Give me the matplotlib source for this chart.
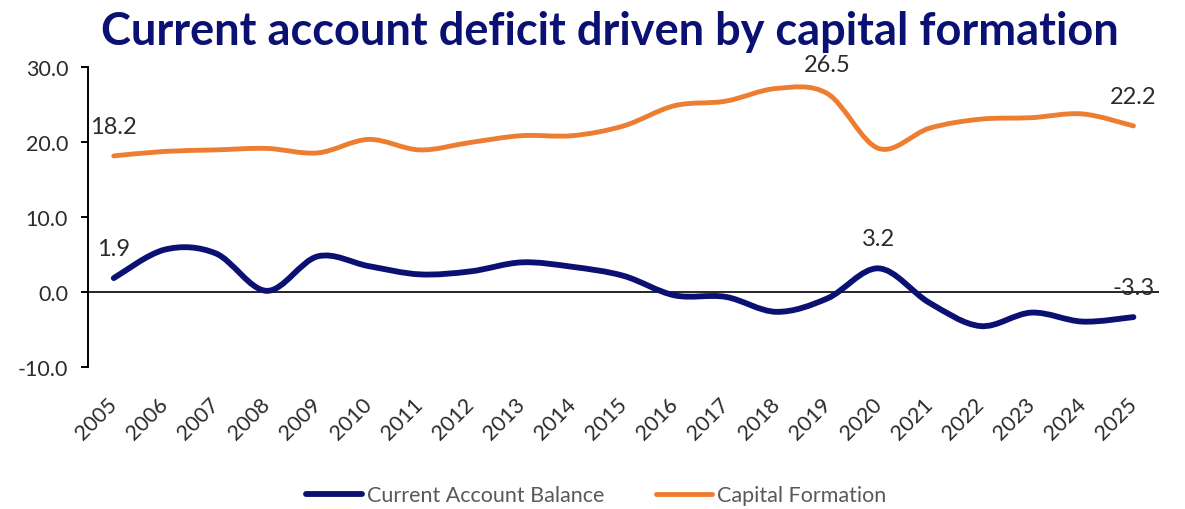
import numpy as np
import matplotlib.pyplot as plt
from matplotlib.path import Path
from matplotlib.patches import PathPatch
from matplotlib.lines import Line2D

years = [str(y) for y in range(2005, 2026)]
current_account = [1.9, 5.7, 5.2, 0.2, 4.8, 3.5, 2.4, 2.8, 4.0, 3.4, 2.2,
                   -0.4, -0.6, -2.6, -0.8, 3.2, -1.4, -4.5, -2.7, -3.9, -3.3]
capital_formation = [18.2, 18.8, 19.0, 19.2, 18.6, 20.4, 19.0, 20.0, 20.9, 20.9, 22.2,
                     24.9, 25.5, 27.2, 26.5, 19.2, 21.9, 23.1, 23.3, 23.8, 22.2]
# indices of the points that carry a value label
ca_labels = [0, 15, 20]
cf_labels = [0, 14, 20]

NAVY = '#0b1172'
ORANGE = '#ed7d31'
TXT = '#2b2b2b'
FONT = ['Lato', 'DejaVu Sans']


def smooth_path(xs, ys):
    # excel style smoothed line: catmull-rom segments as cubic beziers
    pts = np.column_stack([xs, ys]).astype(float)
    ext = np.vstack([pts[0], pts, pts[-1]])
    verts = [pts[0]]
    codes = [Path.MOVETO]
    for i in range(len(pts) - 1):
        p0, p1, p2, p3 = ext[i], ext[i + 1], ext[i + 2], ext[i + 3]
        verts += [p1 + (p2 - p0) / 6, p2 - (p3 - p1) / 6, p2]
        codes += [Path.CURVE4] * 3
    return Path(verts, codes)


fig = plt.figure(figsize=(11.85, 5.1), dpi=100)
ax = fig.add_axes([0.0745, 0.2778, 0.9035, 0.588])

x = np.arange(len(years))
for vals, col, lw in [(current_account, NAVY, 4.2), (capital_formation, ORANGE, 3.5)]:
    ax.add_patch(PathPatch(smooth_path(x, vals), fill=False, edgecolor=col, lw=lw,
                           capstyle='round', joinstyle='round', zorder=3))

for vals, idx in [(current_account, ca_labels), (capital_formation, cf_labels)]:
    for i in idx:
        ax.annotate(f'{vals[i]:.1f}', (x[i], vals[i]), xytext=(0, 16.5),
                    textcoords='offset points', ha='center', va='baseline',
                    fontsize=17, color=TXT, family=FONT, zorder=4)

ax.axhline(0, color='black', lw=1.2, zorder=2)
ax.set_xlim(-0.5, len(years) - 0.5)
ax.set_ylim(-10, 30)
ax.set_yticks([-10, 0, 10, 20, 30])
ax.set_yticklabels([f'{v:.1f}' for v in [-10, 0, 10, 20, 30]])
ax.set_xticks(x)
ax.set_xticklabels(years, rotation=45, ha='right', va='center', rotation_mode='anchor')

for s in ['top', 'right', 'bottom']:
    ax.spines[s].set_visible(False)
ax.spines['left'].set_linewidth(1.4)
ax.tick_params(axis='y', length=5, width=1.4, pad=9.5, labelsize=15.5, labelcolor=TXT)
ax.tick_params(axis='x', length=0, pad=24, labelsize=15.5, labelcolor=TXT)
for lab in ax.get_xticklabels() + ax.get_yticklabels():
    lab.set_family(FONT)

fig.text(0.515, 0.9118, 'Current account deficit driven by capital formation',
         ha='center', va='baseline', fontsize=32.5, fontweight='bold', color=NAVY, family=FONT)

handles = [Line2D([], [], color=NAVY, lw=4.2, solid_capstyle='round'),
           Line2D([], [], color=ORANGE, lw=3.5, solid_capstyle='round')]
fig.legend(handles, ['Current Account Balance', 'Capital Formation'], loc='center',
           bbox_to_anchor=(0.503, 0.027), ncol=2, frameon=False, handlelength=2.6,
           handletextpad=0.25, columnspacing=2.4,
           prop={'family': FONT, 'size': 15.5}, labelcolor='#595959')

fig.savefig('out.png', dpi=100, facecolor='white')
